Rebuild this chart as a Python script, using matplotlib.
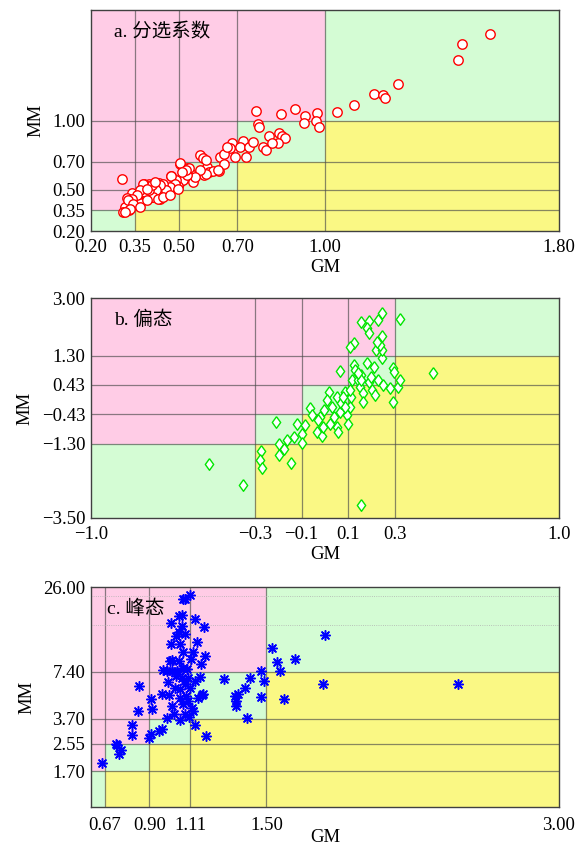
import matplotlib
matplotlib.use("Agg")
import matplotlib.pyplot as plt
from matplotlib.patches import Rectangle

plt.rcParams["font.family"] = ["Liberation Serif", "Noto Sans CJK SC"]
plt.rcParams["axes.unicode_minus"] = True

PINK = "#ffcce6"
GREEN = "#d4fcd4"
YELLOW = "#faf884"

# ---- panel a: sorting coefficient ----
a_edges_x = [0.20, 0.35, 0.50, 0.70, 1.00, 1.80]
a_edges_y = [0.20, 0.35, 0.50, 0.70, 1.00, 1.80]
a_xticks = ["0.20", "0.35", "0.50", "0.70", "1.00", "1.80"]
a_yticks = ["0.20", "0.35", "0.50", "0.70", "1.00"]
a_gm = [1.563, 1.469, 1.456, 1.250, 1.168, 1.200, 1.206, 1.100, 1.040, 0.898,
        0.763, 0.850, 0.930, 0.973, 0.928, 0.969, 0.978, 0.770, 0.776, 0.307,
        0.808, 0.843, 0.854, 0.865, 0.841, 0.788, 0.800, 0.818, 0.721, 0.683,
        0.676, 0.711, 0.741, 0.754, 0.731, 0.691, 0.641, 0.655, 0.573, 0.583,
        0.639, 0.654, 0.598, 0.586, 0.604, 0.503, 0.529, 0.516, 0.541, 0.548,
        0.504, 0.491, 0.474, 0.441, 0.431, 0.399, 0.381, 0.404, 0.466, 0.436,
        0.410, 0.360, 0.341, 0.323, 0.316, 0.308, 0.329, 0.366, 0.385, 0.416,
        0.454, 0.479, 0.516, 0.498, 0.592, 0.665, 0.617, 0.634, 0.594, 0.572,
        0.555, 0.528, 0.535, 0.506, 0.524, 0.510, 0.492, 0.475, 0.486, 0.469,
        0.447, 0.458, 0.435, 0.424, 0.413, 0.399, 0.378, 0.367, 0.356, 0.339,
        0.327, 0.344, 0.333, 0.316, 0.367, 0.390, 0.430, 0.447, 0.469, 0.498,
        0.407, 0.418, 0.390]
a_mm = [1.624, 1.553, 1.440, 1.266, 1.193, 1.186, 1.164, 1.114, 1.060, 1.080,
        1.070, 1.048, 1.036, 1.053, 0.983, 1.000, 0.954, 0.976, 0.954, 0.575,
        0.889, 0.908, 0.891, 0.877, 0.836, 0.811, 0.787, 0.836, 0.855, 0.836,
        0.800, 0.811, 0.807, 0.848, 0.734, 0.739, 0.739, 0.758, 0.751, 0.727,
        0.637, 0.686, 0.666, 0.608, 0.628, 0.688, 0.659, 0.637, 0.613, 0.558,
        0.558, 0.541, 0.601, 0.534, 0.546, 0.538, 0.543, 0.521, 0.485, 0.430,
        0.449, 0.461, 0.478, 0.437, 0.376, 0.335, 0.352, 0.400, 0.485, 0.485,
        0.473, 0.509, 0.570, 0.526, 0.713, 0.810, 0.633, 0.640, 0.611, 0.640,
        0.592, 0.604, 0.653, 0.689, 0.645, 0.628, 0.568, 0.597, 0.544, 0.519,
        0.544, 0.495, 0.531, 0.495, 0.447, 0.495, 0.544, 0.495, 0.459, 0.435,
        0.423, 0.398, 0.362, 0.338, 0.374, 0.423, 0.435, 0.447, 0.459, 0.507,
        0.531, 0.556, 0.507]

# ---- panel b: skewness ----
b_edges_x = [-1.0, -0.3, -0.1, 0.1, 0.3, 1.0]
b_edges_y = [-3.50, -1.30, -0.43, 0.43, 1.30, 3.00]
b_xticks = ["\u22121.0", "\u22120.3", "\u22120.1", "0.1", "0.3", "1.0"]
b_yticks = ["\u22123.50", "\u22121.30", "\u22120.43", "0.43", "1.30", "3.00"]
b_gm = [-0.495, -0.352, 0.155, 0.320, 0.461, -0.273, -0.278, -0.270, -0.195, -0.145,
        -0.211, -0.195, -0.175, -0.164, -0.133, -0.120, -0.098, -0.098, -0.086, -0.066,
        -0.036, -0.011, -0.023, -0.003, 0.016, 0.008, 0.031, 0.039, 0.052, 0.055,
        0.063, 0.050, 0.070, 0.086, 0.094, 0.098, 0.105, 0.113, 0.117, 0.125,
        0.130, 0.141, 0.148, 0.156, 0.164, 0.180, 0.188, 0.203, 0.211, 0.214,
        0.227, 0.250, 0.277, 0.289, 0.297, 0.313, 0.320, 0.289, 0.242, 0.227,
        0.219, 0.242, 0.234, 0.122, 0.109, 0.242, 0.227, 0.155, 0.188, 0.180,
        0.188, 0.242, 0.223, 0.063, 0.078, -0.031, -0.055, -0.008, 0.023, 0.086,
        0.109, 0.164, 0.156, 0.195, 0.141]
b_mm = [-1.896, -2.539, -3.113, 2.387, 0.774, -1.520, -1.777, -2.025, -1.649, -1.876,
        -0.660, -1.303, -1.451, -1.204, -1.105, -0.709, -1.006, -1.273, -0.759, -0.244,
        -0.956, -1.085, -0.511, -0.314, 0.231, -0.017, -0.215, -0.511, -0.808, -0.956,
        -0.363, 0.082, -0.116, 0.231, -0.462, -0.729, -0.215, 0.082, 0.577, 1.022,
        0.873, 0.577, 0.379, 0.725, 0.181, 1.071, 0.527, 0.280, 0.972, 0.132,
        0.577, 0.428, 0.329, 0.923, 0.824, 0.379, 0.577, -0.086, 1.220, 1.665,
        1.467, 1.467, 1.615, 1.665, 1.566, 2.555, 2.357, 2.278, 2.308, 2.110,
        1.961, 1.863, 1.714, 0.854, 0.082, -0.610, -0.462, -0.808, -0.709, -0.215,
        0.280, -0.066, 0.577, 0.676, 0.775]

# ---- panel c: kurtosis ----
c_edges_x = [0.60, 0.67, 0.90, 1.11, 1.50, 3.00]
c_edges_y = [1.00, 1.70, 2.55, 3.70, 7.40, 26.00]
c_xticks = ["", "0.67", "0.90", "1.11", "1.50", "3.00"]
c_yticks = ["", "1.70", "2.55", "3.70", "7.40", "26.00"]
c_gm = [0.654, 0.727, 0.746, 0.756, 0.733, 0.812, 0.808, 0.840, 0.846, 0.898,
        0.906, 0.909, 0.915, 0.947, 0.962, 0.962, 0.971, 0.990, 0.996, 1.000,
        1.009, 1.014, 1.018, 1.027, 1.037, 1.042, 1.050, 1.056, 1.059, 1.065,
        1.071, 1.074, 1.080, 1.084, 1.089, 1.093, 1.097, 1.102, 1.108, 1.112,
        1.117, 1.121, 1.131, 1.136, 1.144, 1.149, 1.159, 1.164, 1.168, 1.177,
        1.181, 1.183, 1.191, 1.136, 1.009, 1.052, 1.065, 1.074, 1.059, 1.037,
        1.050, 1.065, 1.084, 1.097, 1.018, 1.056, 1.046, 0.990, 1.284, 1.337,
        1.342, 1.346, 1.356, 1.389, 1.402, 1.417, 1.470, 1.472, 1.487, 1.528,
        1.554, 1.571, 1.592, 1.646, 1.790, 1.802, 2.481, 1.074, 1.108, 1.125,
        1.084, 1.033, 1.005]
c_mm = [1.91, 2.54, 2.19, 2.33, 2.49, 3.36, 2.92, 4.14, 6.00, 2.78,
        2.95, 4.92, 4.24, 3.10, 3.19, 5.35, 7.58, 3.74, 6.37, 5.25,
        11.2, 4.45, 8.80, 3.97, 6.97, 7.51, 8.71, 3.65, 5.71, 6.80,
        7.89, 9.87, 21.7, 6.15, 5.17, 7.69, 4.80, 3.78, 22.96, 8.93,
        4.35, 9.87, 6.47, 3.39, 11.5, 5.04, 6.87, 8.29, 5.25, 5.30,
        14.3, 9.39, 2.88, 16.1, 15.2, 17.0, 17.2, 21.8, 11.2, 12.6,
        13.4, 14.7, 13.0, 6.79, 7.51, 5.04, 7.14, 7.51, 6.70, 5.17,
        4.80, 4.45, 5.30, 5.86, 3.75, 6.73, 5.10, 7.51, 6.47, 10.5,
        8.59, 7.45, 4.92, 8.93, 6.15, 12.8, 6.15, 4.57, 5.86, 4.14,
        3.97, 5.86, 8.71]


def shade_zones(ax, ex, ey):
    """Fill the 5x5 grid: diagonal green, upper pink, lower yellow."""
    for i in range(len(ex) - 1):
        for j in range(len(ey) - 1):
            if i == j:
                c = GREEN
            elif j > i:
                c = PINK
            else:
                c = YELLOW
            ax.add_patch(Rectangle((ex[i], ey[j]), ex[i + 1] - ex[i], ey[j + 1] - ey[j],
                                   facecolor=c, edgecolor="none", zorder=0))
    for x in ex[1:-1]:
        ax.axvline(x, color="#4a4a4a", lw=0.9, alpha=0.65, zorder=1)
    for y in ey[1:-1]:
        ax.axhline(y, color="#4a4a4a", lw=0.9, alpha=0.65, zorder=1)


def style_axes(ax, ex, ey, xt, yt, title, labelpad, xpad=4, title_x=0.05):
    ax.set_xlim(ex[0], ex[-1])
    ax.set_ylim(ey[0], ey[-1])
    ax.set_xticks(ex)
    ax.set_xticklabels(xt)
    ax.set_yticks(ey[:len(yt)])
    ax.set_yticklabels(yt)
    ax.minorticks_off()
    ax.tick_params(length=0, labelsize=13.5, pad=4)
    ax.tick_params(axis="x", pad=xpad)
    for s in ax.spines.values():
        s.set_color("#404040")
        s.set_linewidth(1.0)
    ax.set_xlabel("GM", fontsize=13.5, labelpad=labelpad)
    ax.set_ylabel("MM", fontsize=13.5, labelpad=6)
    ax.text(title_x, 0.9, title, transform=ax.transAxes, fontsize=14,
            ha="left", va="center", zorder=5)


fig = plt.figure(figsize=(5.78, 8.5), dpi=100)

ax_a = fig.add_axes([0.1574, 0.7282, 0.8097, 0.2600])
shade_zones(ax_a, a_edges_x, a_edges_y)
ax_a.scatter(a_gm, a_mm, s=46, facecolors="white", edgecolors="#ff0000",
             linewidths=1.0, zorder=3)
style_axes(ax_a, a_edges_x, a_edges_y, a_xticks, a_yticks, "a. 分选系数", 2, xpad=6)

ax_b = fig.add_axes([0.1574, 0.3906, 0.8097, 0.2588])
shade_zones(ax_b, b_edges_x, b_edges_y)
diamond = [(0, 1), (0.72, 0), (0, -1), (-0.72, 0), (0, 1)]
ax_b.scatter(b_gm, b_mm, s=70, marker=diamond, facecolors="white",
             edgecolors="#00e600", linewidths=1.0, zorder=3)
style_axes(ax_b, b_edges_x, b_edges_y, b_xticks, b_yticks, "b. 偏态", 2, xpad=6)

ax_c = fig.add_axes([0.1574, 0.0506, 0.8097, 0.2588])
ax_c.set_yscale("log")
shade_zones(ax_c, c_edges_x, c_edges_y)
for y in [14.9, 22.6]:
    ax_c.axhline(y, color="#b0b0b0", lw=0.6, ls=":", zorder=1)
ax_c.scatter(c_gm, c_mm, s=48, marker=(8, 2, 0), color="#0000ff",
             linewidths=1.1, zorder=3)
style_axes(ax_c, c_edges_x, c_edges_y, c_xticks, c_yticks, "c. 峰态", 0,
           xpad=7, title_x=0.035)
# keep the bottom "GM" inside the canvas
ax_c.xaxis.label.set_va("bottom")
ax_c.xaxis.set_label_coords(0.5, -0.178)

fig.savefig("out.png", dpi=100)
